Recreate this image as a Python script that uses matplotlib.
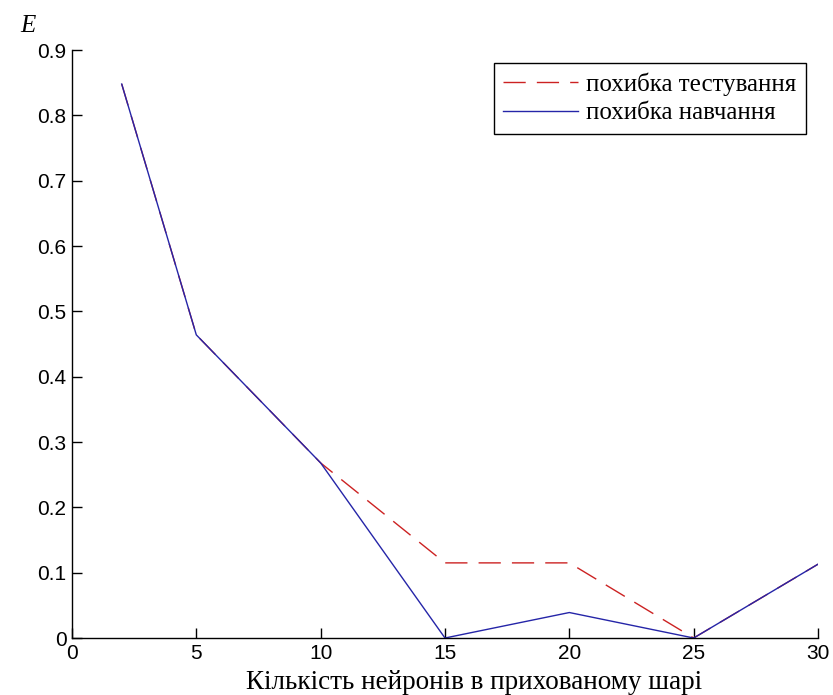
import numpy as np
import matplotlib.pyplot as plt

# neurons in hidden layer
neurons = [2, 5, 10, 15, 20, 25, 30]
test_error = [0.848, 0.464, 0.268, 0.115, 0.115, 0.0, 0.113]
train_error = [0.848, 0.464, 0.268, 0.0, 0.039, 0.0, 0.113]

x_ticks = [0, 5, 10, 15, 20, 25, 30]
y_ticks = [0, 0.1, 0.2, 0.3, 0.4, 0.5, 0.6, 0.7, 0.8, 0.9]
y_tick_labels = ["0", "0.1", "0.2", "0.3", "0.4", "0.5", "0.6", "0.7", "0.8", "0.9"]

fig = plt.figure(figsize=(8.33, 6.95), dpi=100)
ax = fig.add_axes([0.0864, 0.082, 0.8956, 0.846])

ax.plot(neurons, test_error, color="#cc2222", lw=1.0, dashes=(16, 8),
        label="похибка тестування")
ax.plot(neurons, train_error, color="#2525a8", lw=1.0,
        label="похибка навчання")

ax.set_xlim(0, 30)
ax.set_ylim(0, 0.9)
ax.set_xticks(x_ticks)
ax.set_yticks(y_ticks)
ax.set_yticklabels(y_tick_labels)
for lab in ax.get_xticklabels() + ax.get_yticklabels():
    lab.set_fontfamily("Liberation Sans")
    lab.set_fontsize(15)
ax.tick_params(direction="in", length=7, width=1, colors="black", pad=4)

ax.spines["top"].set_visible(False)
ax.spines["right"].set_visible(False)
ax.spines["left"].set_linewidth(1)
ax.spines["bottom"].set_linewidth(1)

# x label sits a little right of the axes centre in the original
fig.text(0.569, 0.009, "Кількість нейронів в прихованому шарі", fontfamily="Liberation Serif",
         fontsize=19.5, ha="center", va="baseline")
fig.text(0.024, 0.963, "E", fontfamily="Liberation Serif", fontstyle="italic",
         fontsize=18, ha="left", va="center")

leg = ax.legend(loc="upper right", bbox_to_anchor=(0.99, 0.987),
                prop={"family": "Liberation Serif", "size": 18},
                fancybox=False, edgecolor="black", framealpha=1,
                handlelength=3.0, handletextpad=0.3, borderpad=0.38,
                labelspacing=0.25, borderaxespad=0.2)
leg.get_frame().set_linewidth(1)

fig.savefig("out.png", dpi=100)
plt.close(fig)
